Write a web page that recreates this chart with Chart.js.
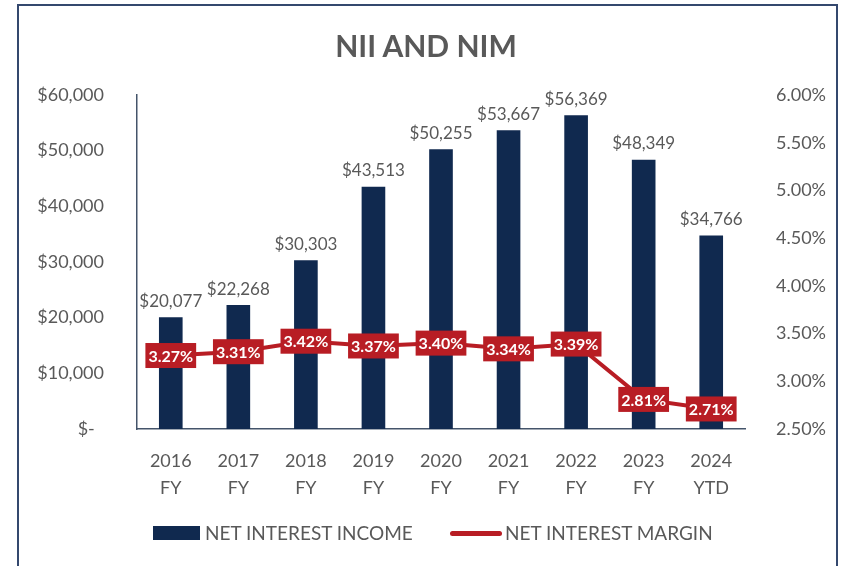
<!DOCTYPE html>
<html><head><meta charset="utf-8">
<script src="https://cdn.jsdelivr.net/npm/chart.js@4"></script>
<style>
html,body{margin:0;padding:0;background:#fff;width:841px;height:566px;overflow:hidden;font-family:Lato,sans-serif;}
#wrap{position:relative;width:841px;height:566px;}
#frame{position:absolute;left:17px;top:4px;width:821px;height:620px;border:2px solid #34486E;box-sizing:border-box;}
#c{position:absolute;left:0;top:0;}
#title{position:absolute;left:0;width:852px;top:27px;line-height:36px;text-align:center;font-weight:bold;font-size:30px;color:#595959;font-family:Lato,sans-serif;}
.lg{position:absolute;top:522px;height:22px;line-height:22px;font-size:19px;color:#595959;font-family:Lato,sans-serif;white-space:nowrap;}
.sw{position:absolute;}
</style></head>
<body><div id="wrap">
<div id="frame"></div>
<canvas id="c" width="841" height="566"></canvas>
<div id="title">NII AND NIM</div>
<div class="sw" style="left:153px;top:526px;width:47px;height:14px;background:#10294F"></div>
<div class="lg" style="left:205px">NET INTEREST INCOME</div>
<div class="sw" style="left:450px;top:531px;width:52px;height:5px;border-radius:3px;background:#B81D24"></div>
<div class="lg" style="left:505px">NET INTEREST MARGIN</div>
</div>
<script>
const categories = [["2016","FY"],["2017","FY"],["2018","FY"],["2019","FY"],["2020","FY"],["2021","FY"],["2022","FY"],["2023","FY"],["2024","YTD"]];
const niiValues = [20077,22268,30303,43513,50255,53667,56369,48349,34766];
const nimValues = [3.27,3.31,3.42,3.37,3.40,3.34,3.39,2.81,2.71];
const leftTickLabels = ["$-  ","$10,000","$20,000","$30,000","$40,000","$50,000","$60,000"];
const rightTickLabels = ["2.50%","3.00%","3.50%","4.00%","4.50%","5.00%","5.50%","6.00%"];

const NAVY = "#10294F", RED = "#B81D24", GRAY = "#595959", AXIS = "#44546A";
Chart.defaults.font.family = "Lato, sans-serif";
Chart.defaults.color = GRAY;

const labelPlugin = {
  id: "labels",
  afterDatasetsDraw(chart) {
    const ctx = chart.ctx;
    ctx.save();
    const bars = chart.getDatasetMeta(0).data;
    ctx.font = "17px Lato, sans-serif";
    ctx.fillStyle = GRAY;
    ctx.textAlign = "center";
    ctx.textBaseline = "middle";
    bars.forEach((el, i) => {
      ctx.fillText("$" + niiValues[i].toLocaleString("en-US"), el.x, el.y - 16);
    });
    const pts = chart.getDatasetMeta(1).data;
    ctx.font = "bold 16px Lato, sans-serif";
    pts.forEach((el, i) => {
      const t = nimValues[i].toFixed(2) + "%";
      const w = ctx.measureText(t).width + 6;
      const h = 25;
      ctx.fillStyle = RED;
      ctx.fillRect(el.x - w / 2, el.y - h / 2, w, h);
      ctx.fillStyle = "#fff";
      ctx.fillText(t, el.x, el.y + 1);
    });
    ctx.restore();
  }
};

new Chart(document.getElementById("c"), {
  data: {
    labels: categories,
    datasets: [
      { type: "bar", label: "NET INTEREST INCOME", data: niiValues, backgroundColor: NAVY,
        yAxisID: "y", barPercentage: 0.35, categoryPercentage: 1, order: 1 },
      { type: "line", label: "NET INTEREST MARGIN", data: nimValues, borderColor: RED, borderWidth: 4,
        pointRadius: 0, tension: 0, yAxisID: "y1", order: 0 }
    ]
  },
  options: {
    responsive: false,
    animation: false,
    layout: { padding: { left: 20, right: 10, top: 95, bottom: 0 } },
    plugins: { legend: { display: false }, title: { display: false }, tooltip: { enabled: false } },
    scales: {
      x: {
        grid: { display: false },
        border: { display: true, color: AXIS, width: 1.5 },
        ticks: { font: { size: 18, lineHeight: 1.5 }, padding: 11, maxRotation: 0, autoSkip: false, color: GRAY },
        afterFit: s => { s.height = 137; }
      },
      y: {
        position: "left", min: 0, max: 60000,
        grid: { display: false },
        border: { display: true, color: AXIS, width: 1.5 },
        ticks: { stepSize: 10000, padding: 25, font: { size: 18 }, color: GRAY,
          callback: (v, i) => leftTickLabels[i] },
        afterFit: s => { s.width = 117; }
      },
      y1: {
        position: "right", min: 2.5, max: 6.0,
        grid: { display: false },
        border: { display: false },
        ticks: { stepSize: 0.5, padding: 23, font: { size: 18 }, color: GRAY,
          callback: (v, i) => rightTickLabels[i] },
        afterFit: s => { s.width = 86; }
      }
    }
  },
  plugins: [labelPlugin]
});
</script>
</body></html>
